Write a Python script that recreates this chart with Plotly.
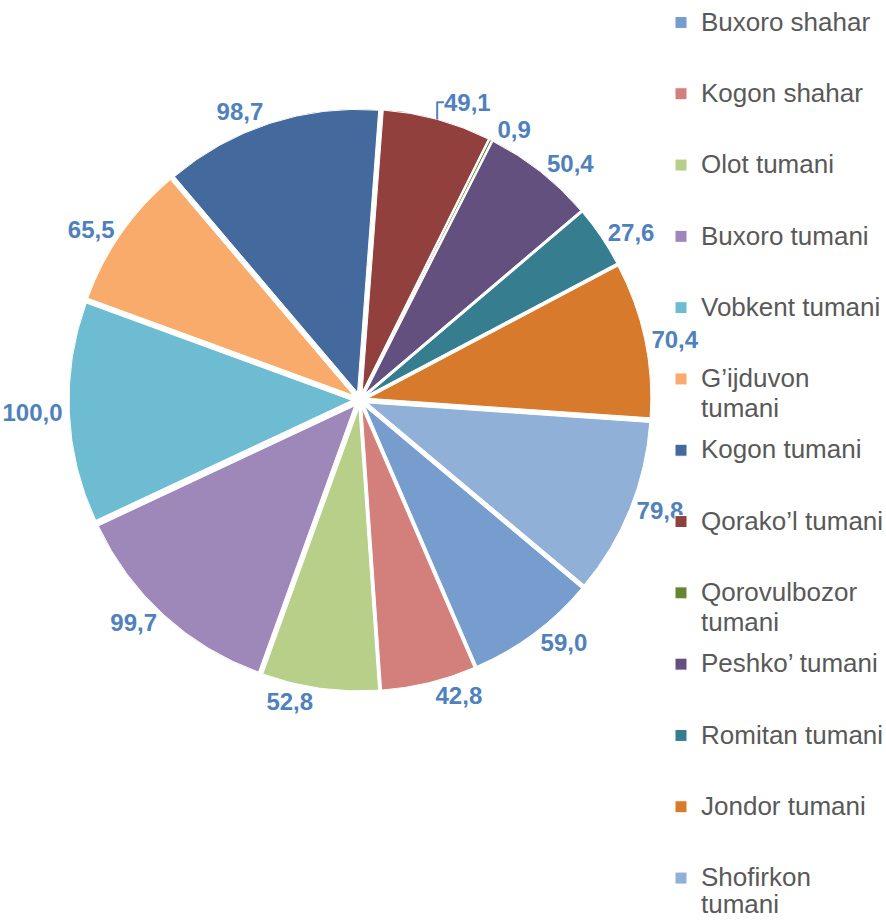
import plotly.graph_objects as go

# ---- data ----
districts = ["Buxoro shahar", "Kogon shahar", "Olot tumani", "Buxoro tumani",
             "Vobkent tumani", "G’ijduvon tumani", "Kogon tumani", "Qorako’l tumani",
             "Qorovulbozor tumani", "Peshko’ tumani", "Romitan tumani", "Jondor tumani",
             "Shofirkon tumani"]
legend_labels = ["Buxoro shahar", "Kogon shahar", "Olot tumani", "Buxoro tumani",
                 "Vobkent tumani", "G’ijduvon\ntumani", "Kogon tumani", "Qorako’l tumani",
                 "Qorovulbozor\ntumani", "Peshko’ tumani", "Romitan tumani", "Jondor tumani",
                 "Shofirkon\ntumani"]
values = [59.0, 42.8, 52.8, 99.7, 100.0, 65.5, 98.7, 49.1, 0.9, 50.4, 27.6, 70.4, 79.8]

colors = ["#779CCE", "#D3807D", "#B8CF8A", "#9E88B9", "#6EBCD1", "#F8AB6A", "#44699D",
          "#91403D", "#6A8435", "#64507E", "#357D8F", "#D87A2C", "#91B0D7"]

# ---- legend entries (large text, tall rows like the original) ----
ROW_LINES = 36
LINE_H = (71.3 - 3) / ROW_LINES
NB = "\u00a0"
K1, K2, K2_LAST = 4, 20, 18


def span(t):
    return f'<span style="font-size:26px">{t}</span>'


def legend_entry(label, last=False):
    parts = label.split("\n")
    n = K2_LAST + 1 if last else ROW_LINES
    lines = [NB] * n
    lines[K1] = span(parts[0])
    if len(parts) > 1:
        lines[K2_LAST if last else K2] = span(parts[1])
    return "<br>".join(lines)


entries = [legend_entry(l, i == len(legend_labels) - 1) for i, l in enumerate(legend_labels)]

fig = go.Figure(go.Pie(
    labels=entries,
    values=values,
    customdata=districts,
    sort=False,
    direction="clockwise",
    rotation=130,
    pull=0.028,
    marker=dict(colors=colors, line=dict(color="white", width=1)),
    textposition="outside",
    texttemplate="%{value:.1f}",
    textfont=dict(family="Liberation Sans, Arial", size=24, color="#4F81BD", weight="bold"),
    hovertemplate="%{customdata}: %{value}<extra></extra>",
    domain=dict(x=[69 / 886, 651 / 886], y=[229 / 920, 811 / 920]),
))

fig.update_layout(
    width=886, height=920,
    margin=dict(l=0, r=0, t=0, b=0, autoexpand=False),
    paper_bgcolor="white",
    plot_bgcolor="white",
    separators=", ",
    showlegend=True,
    legend=dict(
        x=661 / 886, xanchor="left",
        y=0, yanchor="bottom",
        valign="top",
        title=dict(text=NB, font=dict(size=10)),
        font=dict(family="Liberation Sans, Arial", size=LINE_H / 1.3, color="#595959"),
        bgcolor="rgba(0,0,0,0)",
        borderwidth=0,
    ),
)

fig.write_html(
    "out.html",
    config={"displayModeBar": False},
    post_script="document.body.style.margin='0';document.body.style.overflow='hidden';",
)
